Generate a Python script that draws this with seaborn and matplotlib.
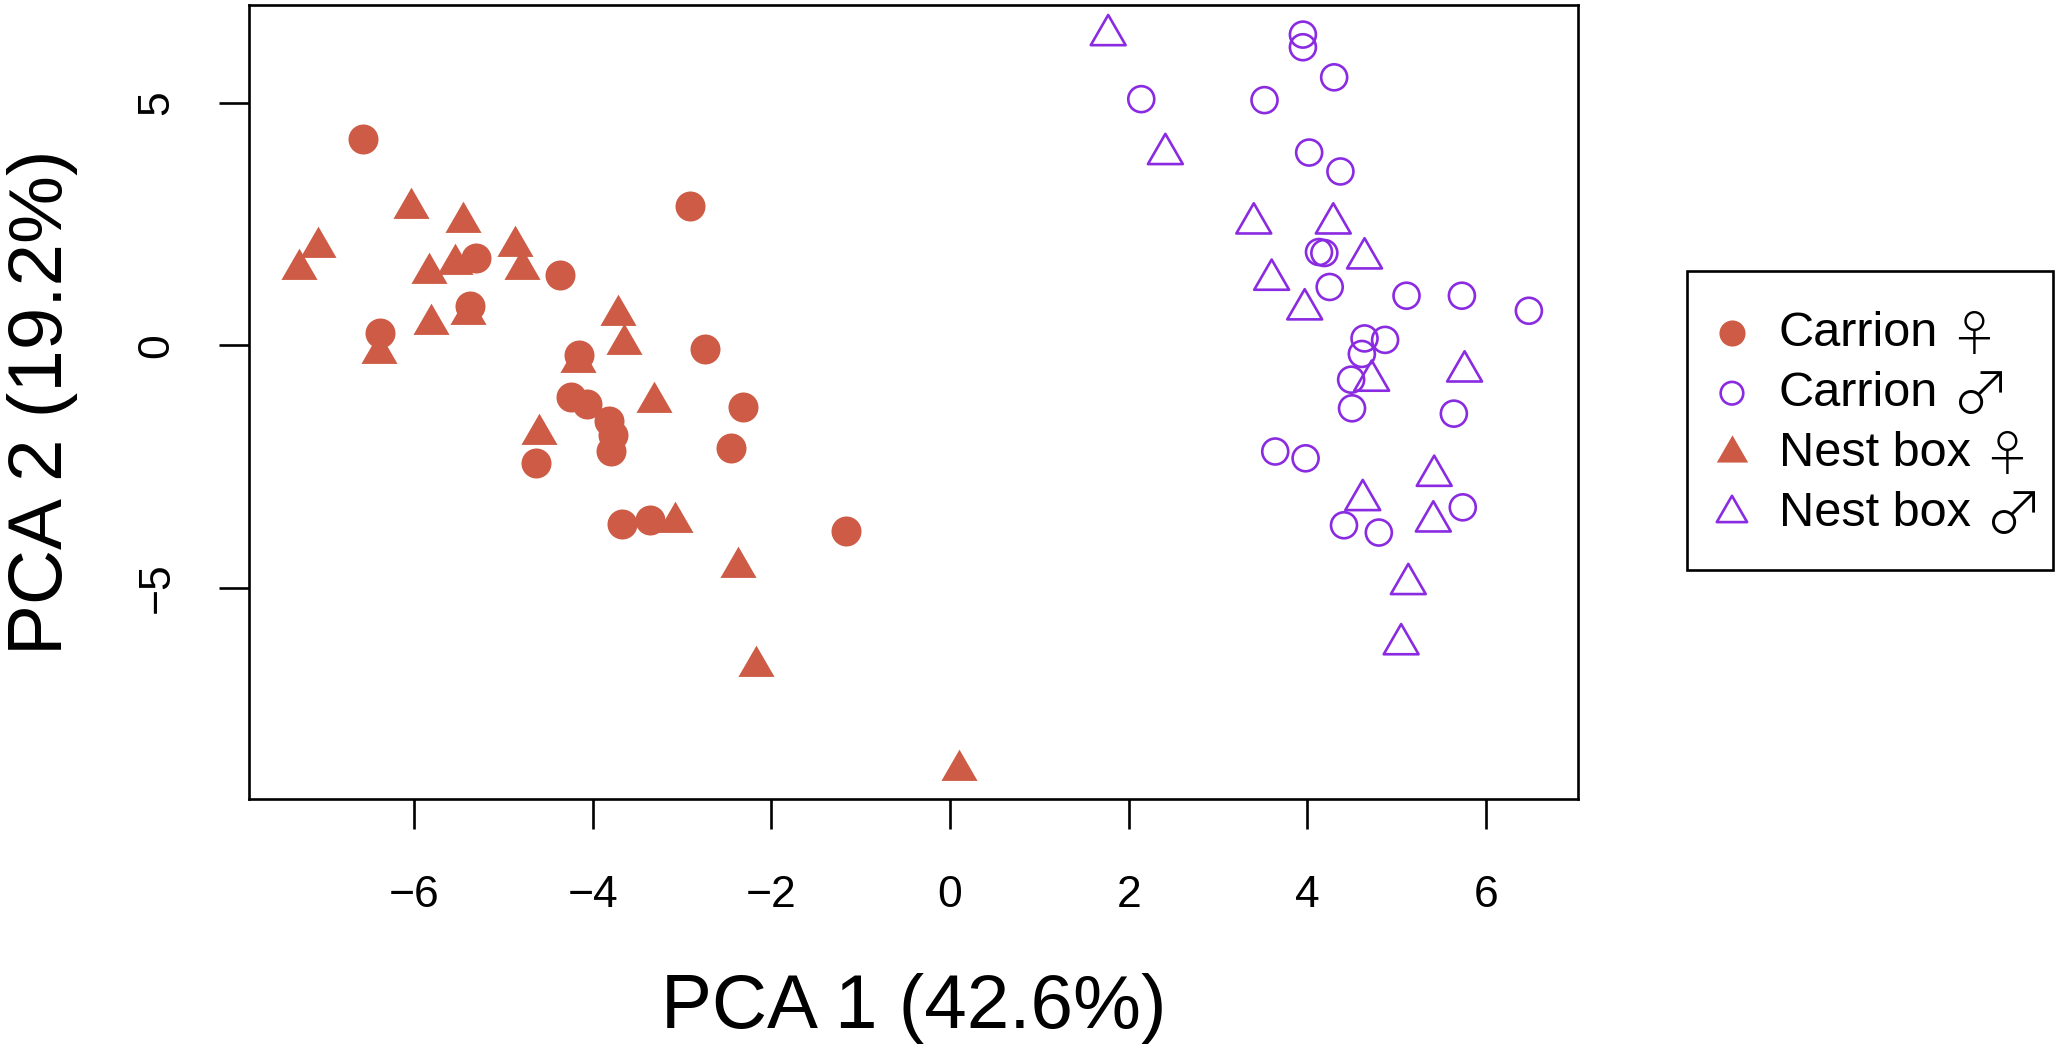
import numpy as np
import pandas as pd
import matplotlib
matplotlib.use('Agg')
import matplotlib.pyplot as plt
from matplotlib.path import Path
from matplotlib.patches import Rectangle
from matplotlib.textpath import TextPath
from matplotlib.font_manager import FontProperties
import seaborn as sns

# PCA scores
carrion_f_x = [-6.57, -5.31, -4.37, -2.91, -5.38, -6.38, -4.15, -2.74, -4.24, -4.07,
               -3.82, -3.78, -3.80, -4.64, -2.32, -2.45, -3.67, -3.36, -1.17]
carrion_f_y = [4.25, 1.79, 1.45, 2.86, 0.80, 0.26, -0.20, -0.08, -1.07, -1.22,
               -1.57, -1.86, -2.17, -2.42, -1.27, -2.11, -3.69, -3.60, -3.82]

carrion_m_x = [3.95, 3.95, 4.30, 2.14, 3.52, 4.02, 4.37, 4.13, 4.19, 4.25, 5.11, 5.73,
               6.48, 4.64, 4.87, 4.61, 4.49, 4.50, 5.64, 3.64, 3.98, 5.74, 4.41, 4.80]
carrion_m_y = [6.40, 6.14, 5.52, 5.07, 5.05, 3.97, 3.58, 1.92, 1.90, 1.20, 1.02, 1.02,
               0.71, 0.14, 0.11, -0.18, -0.71, -1.30, -1.41, -2.19, -2.33, -3.34, -3.71, -3.86]

nestbox_f_x = [-6.04, -5.45, -7.08, -7.29, -5.83, -5.54, -4.87, -4.79, -5.40, -5.81,
               -6.39, -3.72, -3.65, -4.17, -3.32, -4.60, -3.08, -2.38, -2.17, 0.10]
nestbox_f_y = [2.82, 2.54, 2.03, 1.58, 1.48, 1.67, 2.05, 1.58, 0.65, 0.44,
               -0.17, 0.62, 0.02, -0.35, -1.18, -1.83, -3.65, -4.56, -6.60, -8.75]

nestbox_m_x = [1.77, 2.41, 3.40, 4.29, 4.64, 3.60, 3.97, 4.72, 5.76, 5.42, 4.62, 5.41, 5.13, 5.05]
nestbox_m_y = [6.39, 3.94, 2.51, 2.51, 1.79, 1.35, 0.74, -0.73, -0.54, -2.69, -3.19, -3.63, -4.92, -6.16]

group_labels = ['Carrion \u2640', 'Carrion \u2642', 'Nest box \u2640', 'Nest box \u2642']
x_ticks = [-6, -4, -2, 0, 2, 4, 6]
y_ticks = [-5, 0, 5]

df = pd.concat([
    pd.DataFrame({'PC1': carrion_f_x, 'PC2': carrion_f_y, 'group': group_labels[0]}),
    pd.DataFrame({'PC1': carrion_m_x, 'PC2': carrion_m_y, 'group': group_labels[1]}),
    pd.DataFrame({'PC1': nestbox_f_x, 'PC2': nestbox_f_y, 'group': group_labels[2]}),
    pd.DataFrame({'PC1': nestbox_m_x, 'PC2': nestbox_m_y, 'group': group_labels[3]}),
], ignore_index=True)

sns.set_style('ticks')
plt.rcParams['font.family'] = ['Liberation Sans', 'DejaVu Sans']
plt.rcParams['text.color'] = 'black'
plt.rcParams['axes.labelcolor'] = 'black'

coral = '#CD5B45'
violet = '#8A2BE2'

# equilateral triangle centred on its centroid, like R's pch 2 / 17
tri = Path([(0, 1), (-0.866, -0.5), (0.866, -0.5), (0, 1)], closed=True)

styles = {
    group_labels[0]: dict(marker='o', s=467, color=coral, linewidth=0),
    group_labels[1]: dict(marker='o', s=350, color=violet, facecolor='none',
                          edgecolor=violet, linewidth=1.9),
    group_labels[2]: dict(marker=tri, s=900, color=coral, linewidth=0),
    group_labels[3]: dict(marker=tri, s=841, color=violet, facecolor='none',
                          edgecolor=violet, linewidth=1.9),
}

W, H = 2058, 1047
fig = plt.figure(figsize=(W / 100, H / 100), dpi=100)
ax = fig.add_axes([249 / W, 1 - 799 / H, (1578 - 249) / W, (799 - 5) / H])

for g in group_labels:
    sns.scatterplot(data=df[df['group'] == g], x='PC1', y='PC2', ax=ax,
                    label=g, **styles[g])

ax.set_xlim(-7.85, 7.03)
ax.set_ylim(-9.35, 7.01)
ax.set_xticks(x_ticks)
ax.set_yticks(y_ticks)
ax.set_xticklabels([str(t).replace('-', '\u2212') for t in x_ticks])
ax.set_yticklabels([str(t).replace('-', '\u2212') for t in y_ticks])

for sp in ax.spines.values():
    sp.set_linewidth(1.9)
    sp.set_color('black')
    sp.set_visible(True)

ax.tick_params(axis='both', direction='out', length=21.6, width=1.9,
               labelsize=32, colors='black')
ax.tick_params(axis='x', pad=33)
ax.tick_params(axis='y', pad=30, labelrotation=90)
for lab in ax.get_yticklabels():
    lab.set_va('center')

ax.set_xlabel('PCA 1 (42.6%)', fontsize=55, color='black')
ax.set_ylabel('PCA 2 (19.2%)', fontsize=55, color='black')
ax.xaxis.set_label_coords(0.5, -0.219)
ax.yaxis.set_label_coords(-0.1287, 0.5)

# legend: names in the legend, the sex symbols drawn larger next to them,
# frame drawn separately so it can hold both
handles, labels = ax.get_legend_handles_labels()
names = [lab.rsplit(' ', 1)[0] for lab in labels]
symbols = [lab.rsplit(' ', 1)[1] for lab in labels]

leg = ax.legend(handles, names, loc='center left',
                bbox_to_anchor=(1687 / W, 1 - 423.5 / H),
                bbox_transform=fig.transFigure, fontsize=35, frameon=False,
                borderaxespad=0, borderpad=0.75, labelspacing=0.31,
                handlelength=0.35, handletextpad=0.79, markerscale=0.87)
for t in leg.get_texts():
    t.set_color('black')

fig.add_artist(Rectangle((1687 / W, 1 - 570 / H), 366 / W, 299 / H,
                         transform=fig.transFigure, fill=False,
                         edgecolor='black', linewidth=1.9))

fig.canvas.draw()
renderer = fig.canvas.get_renderer()
sym_prop = FontProperties(family='Noto Sans CJK JP', weight='light')
sym_h_px = 43
for t, name, sym in zip(leg.get_texts(), names, symbols):
    prop = t.get_fontproperties()
    bb = t.get_window_extent(renderer)
    _, _, d_lp = renderer.get_text_width_height_descent('lp', prop, ismath=False)
    baseline = bb.y0 + d_lp
    ext = TextPath((0, 0), sym, size=100, prop=sym_prop).get_extents()
    fs = sym_h_px * 72 / ext.height
    px_per_unit = fs * fig.dpi / 72 / 100
    sx = bb.x1 + 20 - ext.x0 * px_per_unit
    sy = baseline - 8 - ext.y0 * px_per_unit
    fig.text(sx / W, sy / H, sym, fontsize=fs, fontproperties=sym_prop,
             ha='left', va='baseline', color='black')

fig.savefig('out.png', dpi=100)
